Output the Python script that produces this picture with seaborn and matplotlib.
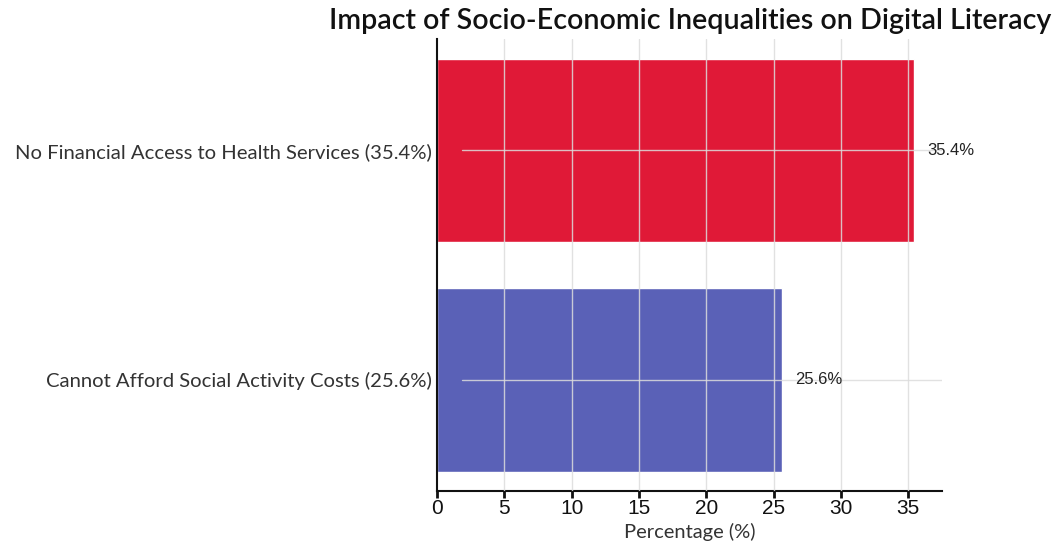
import matplotlib
matplotlib.use("Agg")
import matplotlib.pyplot as plt
import seaborn as sns
import pandas as pd

categories = [
    "No Financial Access to Health Services (35.4%)",
    "Cannot Afford Social Activity Costs (25.6%)",
]
values = [35.4, 25.6]
value_labels = ["35.4%", "25.6%"]
bar_colors = ["#E01937", "#5A61B7"]
x_ticks = [0, 5, 10, 15, 20, 25, 30, 35]

sns.set_theme(style="white")
plt.rcParams["font.family"] = ["Lato", "DejaVu Sans"]

df = pd.DataFrame({"category": categories, "value": values})

fig = plt.figure(figsize=(10.57, 5.42), dpi=100)
ax = fig.add_axes([0.4134, 0.094, 0.891 - 0.4134, 0.928 - 0.094])

sns.barplot(data=df, y="category", x="value", hue="category",
            palette=bar_colors, orient="h", width=0.8, legend=False,
            saturation=1, ax=ax, zorder=1)

ax.set_xlim(0, 37.5)
ax.set_ylim(1.485, -0.485)
ax.set_xticks(x_ticks)
ax.set_xticklabels([str(t) for t in x_ticks], family=["Liberation Sans", "DejaVu Sans"],
                   fontsize=15, color="#111111")

# light grid drawn over the bars
for t in x_ticks[1:]:
    ax.axvline(t, color="#dcdcdc", lw=1.0, alpha=0.85, zorder=3)
for i in range(len(categories)):
    ax.axhline(i, xmin=0.05, xmax=1.0, color="#dcdcdc", lw=1.0, alpha=0.85, zorder=3)

for i, (v, lab) in enumerate(zip(values, value_labels)):
    ax.text(v + 1.0, i, lab, va="center", ha="left", fontsize=12,
            family=["Liberation Sans", "DejaVu Sans"], color="#222222", zorder=4)

ax.tick_params(axis="x", which="major", direction="out", length=5, width=2,
               color="#111111", pad=1, bottom=True)
ax.tick_params(axis="y", length=0, pad=4, labelsize=14.6, labelcolor="#333333")
for lbl in ax.get_yticklabels():
    lbl.set_fontfamily(["Lato", "DejaVu Sans"])

for s in ["top", "right"]:
    ax.spines[s].set_visible(False)
for s in ["left", "bottom"]:
    ax.spines[s].set_color("#111111")
    ax.spines[s].set_linewidth(1.5)

ax.set_ylabel("")
ax.set_xlabel("Percentage (%)", fontsize=14.5, color="#333333", labelpad=3)
fig.suptitle("Impact of Socio-Economic Inequalities on Digital Literacy",
             x=0.653, y=0.985, ha="center", va="top", fontsize=20.6, fontweight="semibold",
             color="#111111")

fig.savefig("out.png", dpi=100)
